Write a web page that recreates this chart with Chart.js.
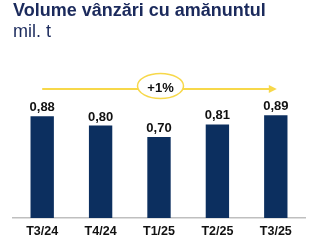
<!DOCTYPE html>
<html>
<head>
<meta charset="utf-8">
<script src="https://cdn.jsdelivr.net/npm/chart.js@4"></script>
<style>
  html, body { margin: 0; padding: 0; background: #fff; }
  #wrap { width: 317px; height: 246px; }
</style>
</head>
<body>
<div id="wrap"><canvas id="myChart" width="317" height="246"></canvas></div>
<script>
// Dados
const categorias = ['T3/24', 'T4/24', 'T1/25', 'T2/25', 'T3/25'];
const volume = [0.88, 0.80, 0.70, 0.81, 0.89];
const variacao = '+1%';

const navy = '#0c2f5f';
const amarelo = '#f7d84a';

// rotulos em cima das barras + seta amarela
const extras = {
    id: 'extras',
    afterDatasetsDraw(chart) {
        const ctx = chart.ctx;
        const meta = chart.getDatasetMeta(0);
        ctx.save();
        ctx.fillStyle = '#111';
        ctx.font = 'bold 13px "Liberation Sans", Arial, sans-serif';
        ctx.textAlign = 'center';
        ctx.textBaseline = 'alphabetic';
        meta.data.forEach((bar, i) => {
            ctx.fillText(volume[i].toFixed(2).replace('.', ','), bar.x, bar.y - 5);
        });

        // seta
        const x0 = meta.data[0].x;
        const x1 = meta.data[meta.data.length - 1].x + 1;
        const y = 89;
        ctx.strokeStyle = amarelo;
        ctx.fillStyle = amarelo;
        ctx.lineWidth = 2;
        ctx.beginPath();
        ctx.moveTo(x0, y);
        ctx.lineTo(x1 - 6, y);
        ctx.stroke();
        ctx.beginPath();
        ctx.moveTo(x1, y);
        ctx.lineTo(x1 - 8, y - 4);
        ctx.lineTo(x1 - 8, y + 4);
        ctx.closePath();
        ctx.fill();

        // elipse
        const cx = (x0 + x1) / 2 + 1;
        ctx.beginPath();
        ctx.ellipse(cx, 86, 23, 12.5, 0, 0, Math.PI * 2);
        ctx.fillStyle = '#fff';
        ctx.fill();
        ctx.lineWidth = 1.5;
        ctx.stroke();
        ctx.fillStyle = '#111';
        ctx.font = 'bold 13px "Liberation Sans", Arial, sans-serif';
        ctx.textBaseline = 'middle';
        ctx.fillText(variacao, cx, 88);
        ctx.restore();
    }
};

const config = {
    type: 'bar',
    data: {
        labels: categorias,
        datasets: [{
            data: volume,
            backgroundColor: navy,
            barPercentage: 0.4,
            categoryPercentage: 1
        }]
    },
    options: {
        responsive: false,
        animation: false,
        layout: { padding: { left: 13, right: 12, top: 0, bottom: 1 } },
        scales: {
            x: {
                grid: { display: false, drawTicks: false },
                border: { display: true, color: '#bfbfbf', width: 1.5 },
                ticks: {
                    color: '#111',
                    padding: 6,
                    font: { family: '"Liberation Sans", Arial, sans-serif', size: 12.5, weight: 'bold' }
                }
            },
            y: {
                display: false,
                min: 0,
                max: 1.4
            }
        },
        plugins: {
            legend: { display: false },
            tooltip: { enabled: false },
            title: {
                display: true,
                text: 'Volume vânzări cu amănuntul',
                align: 'start',
                color: '#1b2a5c',
                padding: { top: 0, bottom: 0 },
                font: { family: '"Liberation Sans", Arial, sans-serif', size: 18, weight: 'bold' }
            },
            subtitle: {
                display: true,
                text: 'mil. t',
                align: 'start',
                color: '#1b2a5c',
                padding: { top: 0, bottom: 13 },
                font: { family: '"Liberation Sans", Arial, sans-serif', size: 18, weight: 'normal' }
            }
        }
    },
    plugins: [extras]
};

new Chart(document.getElementById('myChart').getContext('2d'), config);
</script>
</body>
</html>
